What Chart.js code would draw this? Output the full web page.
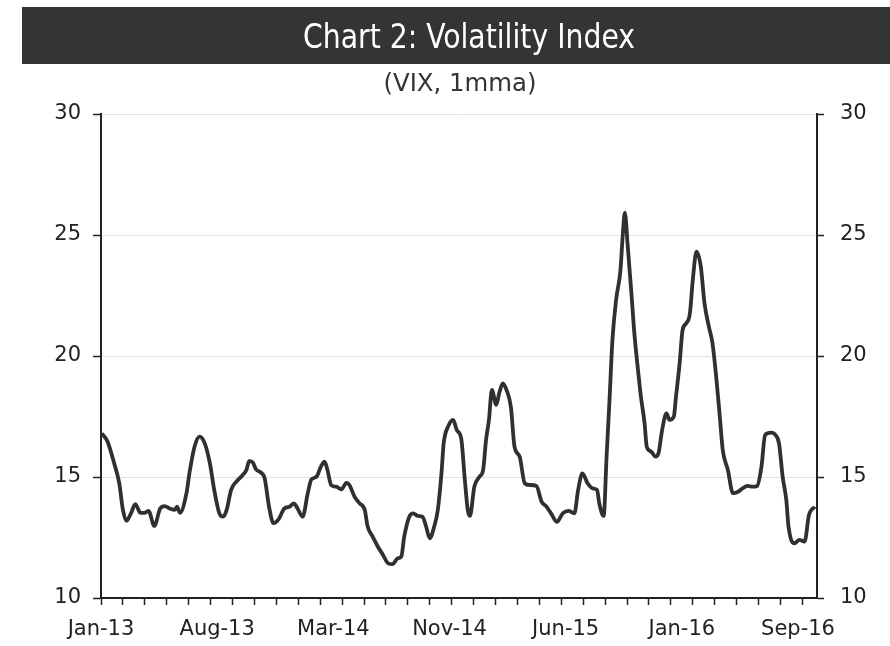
<!DOCTYPE html>
<html>
<head>
<meta charset="utf-8">
<title>Chart 2: Volatility Index</title>
<script src="https://cdn.jsdelivr.net/npm/chart.js@4.4.0/dist/chart.umd.min.js"></script>
<style>
  html, body { margin: 0; padding: 0; background: #fff; }
</style>
</head>
<body>
<canvas id="chart" width="890" height="646"></canvas>
<script>
// title texts
const titleText = 'Chart 2: Volatility Index'
const subtitleText = '(VIX, 1mma)'

// trading day index from 2 Jan 2013, and VIX 1-month moving average
const days = [1, 9, 18, 25, 30, 35, 41, 47, 54, 60, 65, 73, 81, 87, 94, 101, 104, 108,
  117, 121, 128, 135, 142, 149, 155, 162, 167, 172, 178, 185, 194, 199, 203, 208, 212,
  219, 224, 230, 236, 243, 251, 258, 264, 269, 276, 283, 288, 295, 301, 306, 310, 315,
  322, 329, 336, 340, 347, 354, 361, 365, 372, 379, 386, 393, 399, 406, 411, 415, 422,
  427, 434, 440, 445, 450, 456, 461, 466, 469, 475, 482, 487, 493, 498, 502, 505, 511,
  518, 523, 527, 531, 535, 541, 545, 550, 555, 561, 566, 573, 580, 587, 596, 603, 609,
  616, 624, 632, 640, 648, 653, 659, 666, 673, 679, 682, 688, 692, 696, 700, 705, 711,
  714, 717, 721, 726, 730, 735, 739, 744, 747, 753, 759, 763, 768, 774, 778, 784, 787,
  792, 796, 801, 806, 810, 815, 821, 826, 832, 837, 842, 847, 851, 858, 865, 872, 878,
  885, 892, 898, 904, 909, 917, 923, 928, 933, 938, 941, 949, 956, 963, 969, 977]
const vix = [16.8, 16.46, 15.57, 14.74, 13.64, 13.19, 13.5, 13.88, 13.52, 13.52, 13.6, 12.98, 13.7, 13.8, 13.7, 13.64, 13.77, 13.52,
  14.33, 15.15, 16.25, 16.67, 16.39, 15.57, 14.46, 13.5, 13.36, 13.64, 14.46, 14.8, 15.08, 15.29, 15.67, 15.59, 15.32,
  15.18, 14.95, 13.77, 13.09, 13.25, 13.7, 13.77, 13.91, 13.7, 13.36, 14.33, 14.9, 15.01, 15.43, 15.63, 15.29, 14.67,
  14.6, 14.49, 14.76, 14.67, 14.19, 13.91, 13.64, 12.95, 12.53, 12.12, 11.78, 11.43, 11.4, 11.64, 11.71, 12.53, 13.36,
  13.5, 13.39, 13.36, 12.95, 12.47, 12.95, 13.64, 15.15, 16.39, 17.08, 17.36, 16.94, 16.6, 14.88, 13.64, 13.39, 14.6,
  15.01, 15.29, 16.53, 17.36, 18.6, 17.98, 18.46, 18.87, 18.6, 17.9, 16.25, 15.84, 14.74, 14.67, 14.63, 13.98, 13.8,
  13.5, 13.15, 13.5, 13.6, 13.5, 14.46, 15.15, 14.74, 14.53, 14.46, 13.91, 13.39, 15.84, 18.18, 20.66, 22.31, 23.55,
  24.93, 25.92, 24.52, 22.59, 20.94, 19.42, 18.32, 17.22, 16.25, 16.05, 15.84, 15.98, 16.94, 17.63, 17.36, 17.49, 18.32,
  19.7, 21.07, 21.35, 21.76, 23.14, 24.31, 23.69, 22.18, 21.21, 20.52, 19.15, 17.49, 16.12, 15.29, 14.33, 14.39, 14.53,
  14.63, 14.6, 14.63, 15.43, 16.74, 16.83, 16.74, 16.39, 15.01, 14.05, 12.95, 12.26, 12.4, 12.33, 13.43, 13.77]

// category axis: minor ticks every 30 days, labels every 159 days
const labelDays = [0, 159, 318, 477, 636, 795, 954]
const labelNames = ['Jan-13', 'Aug-13', 'Mar-14', 'Nov-14', 'Jun-15', 'Jan-16', 'Sep-16']
const tickStep = 30
const dayMax = 980

// y axis ticks
const yMin = 10
const yMax = 30
const yStep = 5

const tickFont = { family: "'DejaVu Sans', 'Liberation Sans', sans-serif", size: 21 }
const axisColor = '#222'
const narrowFont = "'DejaVu Sans Condensed', 'Liberation Sans Narrow', 'Liberation Sans', sans-serif"

// draws a line of text squeezed or stretched to a given width
function drawFitted(ctx, text, cx, baseline, width, font, color) {
  ctx.save()
  ctx.font = font
  let w = ctx.measureText(text).width
  ctx.translate(cx, baseline)
  ctx.scale(width / w, 1)
  ctx.fillStyle = color
  ctx.textAlign = 'center'
  ctx.textBaseline = 'alphabetic'
  ctx.fillText(text, 0, 0)
  ctx.restore()
}

// dark title band with white heading and subtitle underneath
const titleBar = {
  id: 'titleBar',
  beforeDraw(chart) {
    let ctx = chart.ctx
    ctx.save()
    ctx.fillStyle = '#343434'
    ctx.fillRect(22, 7, 868, 57)
    ctx.restore()
    drawFitted(ctx, titleText, 469, 48, 332, '34px ' + narrowFont, '#fff')
    drawFitted(ctx, subtitleText, 460, 91, 153, '24px ' + narrowFont, '#333')
  }
}

let points = []
for (let i = 0; i < days.length; i++) {
  points.push({ x: days[i], y: vix[i] })
}

let ctx = document.getElementById('chart').getContext('2d')

new Chart(ctx, {
  type: 'line',
  data: {
    datasets: [{
      label: 'VIX, 1mma',
      data: points,
      borderColor: '#303030',
      borderWidth: 3.8,
      pointRadius: 0,
      cubicInterpolationMode: 'monotone',
      yAxisID: 'y'
    }]
  },
  options: {
    responsive: false,
    animation: false,
    devicePixelRatio: 1,
    layout: { padding: { top: 114 } },
    plugins: {
      legend: { display: false },
      tooltip: { enabled: false },
      title: { display: false }
    },
    scales: {
      x: {
        type: 'linear',
        position: 'bottom',
        min: 0,
        max: dayMax,
        afterBuildTicks(scale) {
          let ticks = []
          for (let d = 0; d <= dayMax; d += tickStep) ticks.push({ value: d })
          labelDays.forEach(d => {
            if (d % tickStep !== 0) ticks.push({ value: d })
          })
          ticks.sort((a, b) => a.value - b.value)
          scale.ticks = ticks
        },
        afterFit(scale) { scale.height = 48 },
        grid: {
          drawOnChartArea: false,
          tickLength: 7,
          tickWidth: 1.5,
          tickColor: c => (c.tick && c.tick.value % tickStep !== 0) ? 'rgba(0,0,0,0)' : axisColor
        },
        border: { color: axisColor, width: 2 },
        ticks: {
          autoSkip: false,
          maxRotation: 0,
          padding: 12,
          color: axisColor,
          font: tickFont,
          callback(value) {
            let k = labelDays.indexOf(value)
            return k >= 0 ? labelNames[k] : ''
          }
        }
      },
      y: {
        position: 'left',
        min: yMin,
        max: yMax,
        afterFit(scale) { scale.width = 101 },
        grid: {
          color: '#e2e2e2',
          lineWidth: 1,
          tickColor: axisColor,
          tickLength: 8,
          tickWidth: 1.5
        },
        border: { color: axisColor, width: 2 },
        ticks: { stepSize: yStep, padding: 12, color: axisColor, font: tickFont }
      },
      y2: {
        position: 'right',
        min: yMin,
        max: yMax,
        afterFit(scale) { scale.width = 73 },
        grid: {
          drawOnChartArea: false,
          tickColor: axisColor,
          tickLength: 7,
          tickWidth: 1.5
        },
        border: { color: axisColor, width: 2 },
        ticks: { stepSize: yStep, padding: 16, color: axisColor, font: tickFont }
      }
    }
  },
  plugins: [titleBar]
})
</script>
</body>
</html>
